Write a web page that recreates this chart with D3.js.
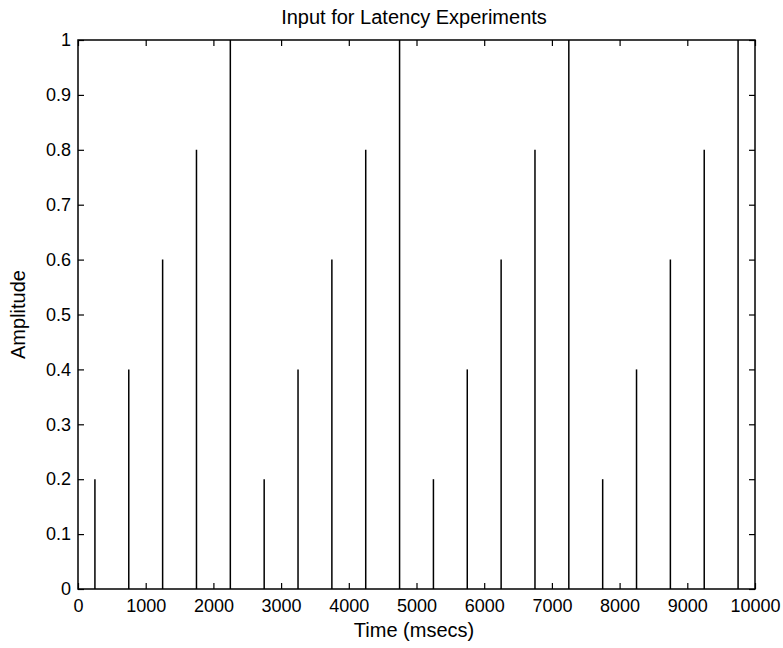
<!DOCTYPE html>
<html>
<head>
<meta charset="utf-8">
<script src="https://cdn.jsdelivr.net/npm/d3@7"></script>
<style>
  html, body { margin: 0; padding: 0; background: #fff; }
  svg text { font-family: "Liberation Sans", Arial, sans-serif; fill: #000; }
</style>
</head>
<body>
<svg id="chart" width="783" height="648"></svg>
<script>
// Pulse train: impulse times (ms) and amplitudes
const times = [250, 750, 1250, 1750, 2250,
               2750, 3250, 3750, 4250, 4750,
               5250, 5750, 6250, 6750, 7250,
               7750, 8250, 8750, 9250, 9750];
const amplitudes = [0.2, 0.4, 0.6, 0.8, 1.0,
                    0.2, 0.4, 0.6, 0.8, 1.0,
                    0.2, 0.4, 0.6, 0.8, 1.0,
                    0.2, 0.4, 0.6, 0.8, 1.0];
const xTicks = [0, 1000, 2000, 3000, 4000, 5000, 6000, 7000, 8000, 9000, 10000];
const yTicks = [0, 0.1, 0.2, 0.3, 0.4, 0.5, 0.6, 0.7, 0.8, 0.9, 1];

const svg = d3.select("#chart");
const plotL = 78, plotR = 755, plotT = 40, plotB = 589;
const tickLen = 6;

const x = d3.scaleLinear().domain([0, 10000]).range([plotL, plotR]);
const y = d3.scaleLinear().domain([0, 1]).range([plotB, plotT]);

const fmtY = v => (v === 0 || v === 1) ? String(v) : d3.format(".1f")(v);

// stems
svg.append("g").selectAll("line").data(times).join("line")
  .attr("x1", d => x(d)).attr("x2", d => x(d))
  .attr("y1", y(0)).attr("y2", (d, i) => y(amplitudes[i]))
  .attr("stroke", "#000").attr("stroke-width", 1.5);

// axes with inward ticks (box style on all four sides)
const axStyle = g => {
  g.select(".domain").remove();
  g.selectAll(".tick line").attr("stroke", "#000").attr("stroke-width", 1.2);
  g.selectAll(".tick text").attr("font-size", 18);
};

svg.append("g").attr("transform", `translate(0,${plotB})`)
  .call(d3.axisBottom(x).tickValues(xTicks).tickFormat(d3.format("d"))
        .tickSizeInner(-tickLen).tickSizeOuter(0).tickPadding(10))
  .call(axStyle);

svg.append("g").attr("transform", `translate(0,${plotT})`)
  .call(d3.axisTop(x).tickValues(xTicks).tickFormat("")
        .tickSizeInner(-tickLen).tickSizeOuter(0))
  .call(axStyle);

svg.append("g").attr("transform", `translate(${plotL},0)`)
  .call(d3.axisLeft(y).tickValues(yTicks).tickFormat(fmtY)
        .tickSizeInner(-tickLen).tickSizeOuter(0).tickPadding(7))
  .call(axStyle);

svg.append("g").attr("transform", `translate(${plotR},0)`)
  .call(d3.axisRight(y).tickValues(yTicks).tickFormat("")
        .tickSizeInner(-tickLen).tickSizeOuter(0))
  .call(axStyle);

// box
svg.append("rect")
  .attr("x", plotL).attr("y", plotT)
  .attr("width", plotR - plotL).attr("height", plotB - plotT)
  .attr("fill", "none").attr("stroke", "#000").attr("stroke-width", 1.5);

// title and axis labels
svg.append("text").attr("x", 414).attr("y", 24)
  .attr("text-anchor", "middle").attr("font-size", 20)
  .text("Input for Latency Experiments");

svg.append("text").attr("x", 414).attr("y", 637)
  .attr("text-anchor", "middle").attr("font-size", 20)
  .text("Time (msecs)");

svg.append("text")
  .attr("transform", `translate(25,${(plotT + plotB) / 2}) rotate(-90)`)
  .attr("text-anchor", "middle").attr("font-size", 20)
  .text("Amplitude");
</script>
</body>
</html>
